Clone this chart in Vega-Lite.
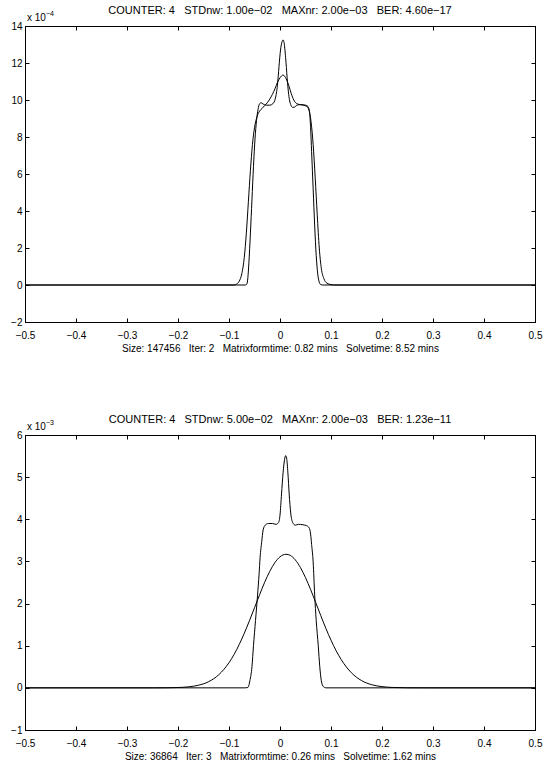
{
  "$schema": "https://vega.github.io/schema/vega-lite/v6.json",
  "background": "white",
  "padding": {"left": 10, "top": 4, "right": 1, "bottom": 2},
  "spacing": 59,
  "datasets": {
    "p1": [
      {"x": -0.5, "y": 0, "curve": "a"}, {"x": -0.068, "y": 0, "curve": "a"}, {"x": -0.065, "y": 0.05, "curve": "a"}, {"x": -0.063, "y": 0.4, "curve": "a"}, {"x": -0.061, "y": 1.2, "curve": "a"}, {"x": -0.058, "y": 2.8, "curve": "a"}, {"x": -0.055, "y": 4.6, "curve": "a"}, {"x": -0.052, "y": 6.4, "curve": "a"}, {"x": -0.049, "y": 7.9, "curve": "a"}, {"x": -0.046, "y": 8.9, "curve": "a"}, {"x": -0.043, "y": 9.5, "curve": "a"}, {"x": -0.04, "y": 9.8, "curve": "a"}, {"x": -0.037, "y": 9.85, "curve": "a"}, {"x": -0.033, "y": 9.78, "curve": "a"}, {"x": -0.027, "y": 9.72, "curve": "a"}, {"x": -0.02, "y": 9.72, "curve": "a"}, {"x": -0.014, "y": 9.8, "curve": "a"}, {"x": -0.009, "y": 10.1, "curve": "a"}, {"x": -0.005, "y": 10.8, "curve": "a"}, {"x": -0.002, "y": 11.8, "curve": "a"}, {"x": 0.001, "y": 12.7, "curve": "a"}, {"x": 0.004, "y": 13.15, "curve": "a"}, {"x": 0.006, "y": 13.25, "curve": "a"}, {"x": 0.008, "y": 13.1, "curve": "a"}, {"x": 0.011, "y": 12.3, "curve": "a"}, {"x": 0.014, "y": 11.2, "curve": "a"}, {"x": 0.017, "y": 10.3, "curve": "a"}, {"x": 0.021, "y": 9.75, "curve": "a"}, {"x": 0.025, "y": 9.6, "curve": "a"}, {"x": 0.029, "y": 9.62, "curve": "a"}, {"x": 0.033, "y": 9.72, "curve": "a"}, {"x": 0.04, "y": 9.75, "curve": "a"}, {"x": 0.05, "y": 9.72, "curve": "a"}, {"x": 0.055, "y": 9.65, "curve": "a"}, {"x": 0.058, "y": 9.3, "curve": "a"}, {"x": 0.06, "y": 8.5, "curve": "a"}, {"x": 0.062, "y": 7.2, "curve": "a"}, {"x": 0.065, "y": 5.2, "curve": "a"}, {"x": 0.068, "y": 3.2, "curve": "a"}, {"x": 0.071, "y": 1.6, "curve": "a"}, {"x": 0.074, "y": 0.6, "curve": "a"}, {"x": 0.077, "y": 0.15, "curve": "a"}, {"x": 0.08, "y": 0.02, "curve": "a"}, {"x": 0.083, "y": 0, "curve": "a"}, {"x": 0.5, "y": 0, "curve": "a"},
      {"x": -0.5, "y": 0, "curve": "b"}, {"x": -0.09, "y": 0, "curve": "b"}, {"x": -0.085, "y": 0.05, "curve": "b"}, {"x": -0.08, "y": 0.2, "curve": "b"}, {"x": -0.075, "y": 0.6, "curve": "b"}, {"x": -0.07, "y": 1.5, "curve": "b"}, {"x": -0.066, "y": 2.8, "curve": "b"}, {"x": -0.062, "y": 4.5, "curve": "b"}, {"x": -0.058, "y": 6.2, "curve": "b"}, {"x": -0.054, "y": 7.6, "curve": "b"}, {"x": -0.05, "y": 8.5, "curve": "b"}, {"x": -0.045, "y": 9.1, "curve": "b"}, {"x": -0.04, "y": 9.4, "curve": "b"}, {"x": -0.035, "y": 9.55, "curve": "b"}, {"x": -0.03, "y": 9.7, "curve": "b"}, {"x": -0.025, "y": 9.85, "curve": "b"}, {"x": -0.02, "y": 10.05, "curve": "b"}, {"x": -0.015, "y": 10.3, "curve": "b"}, {"x": -0.01, "y": 10.6, "curve": "b"}, {"x": -0.005, "y": 10.95, "curve": "b"}, {"x": 0.0, "y": 11.2, "curve": "b"}, {"x": 0.006, "y": 11.35, "curve": "b"}, {"x": 0.012, "y": 11.15, "curve": "b"}, {"x": 0.017, "y": 10.8, "curve": "b"}, {"x": 0.022, "y": 10.35, "curve": "b"}, {"x": 0.027, "y": 10.0, "curve": "b"}, {"x": 0.032, "y": 9.82, "curve": "b"}, {"x": 0.039, "y": 9.75, "curve": "b"}, {"x": 0.046, "y": 9.72, "curve": "b"}, {"x": 0.052, "y": 9.65, "curve": "b"}, {"x": 0.057, "y": 9.45, "curve": "b"}, {"x": 0.061, "y": 8.8, "curve": "b"}, {"x": 0.065, "y": 7.6, "curve": "b"}, {"x": 0.069, "y": 5.8, "curve": "b"}, {"x": 0.073, "y": 3.8, "curve": "b"}, {"x": 0.077, "y": 2.0, "curve": "b"}, {"x": 0.081, "y": 0.9, "curve": "b"}, {"x": 0.086, "y": 0.35, "curve": "b"}, {"x": 0.092, "y": 0.1, "curve": "b"}, {"x": 0.1, "y": 0.02, "curve": "b"}, {"x": 0.105, "y": 0, "curve": "b"}, {"x": 0.5, "y": 0, "curve": "b"}
    ],
    "p2": [
      {"x": -0.5, "y": 0, "curve": "a"}, {"x": -0.07, "y": 0, "curve": "a"}, {"x": -0.063, "y": 0.01, "curve": "a"}, {"x": -0.059, "y": 0.17, "curve": "a"}, {"x": -0.055, "y": 0.5, "curve": "a"}, {"x": -0.052, "y": 1.0, "curve": "a"}, {"x": -0.048, "y": 1.6, "curve": "a"}, {"x": -0.044, "y": 2.2, "curve": "a"}, {"x": -0.041, "y": 2.7, "curve": "a"}, {"x": -0.039, "y": 3.1, "curve": "a"}, {"x": -0.036, "y": 3.45, "curve": "a"}, {"x": -0.033, "y": 3.75, "curve": "a"}, {"x": -0.029, "y": 3.86, "curve": "a"}, {"x": -0.023, "y": 3.9, "curve": "a"}, {"x": -0.015, "y": 3.9, "curve": "a"}, {"x": -0.008, "y": 3.88, "curve": "a"}, {"x": -0.003, "y": 3.92, "curve": "a"}, {"x": 0.0, "y": 4.1, "curve": "a"}, {"x": 0.003, "y": 4.6, "curve": "a"}, {"x": 0.006, "y": 5.1, "curve": "a"}, {"x": 0.009, "y": 5.42, "curve": "a"}, {"x": 0.011, "y": 5.51, "curve": "a"}, {"x": 0.013, "y": 5.45, "curve": "a"}, {"x": 0.0155, "y": 5.1, "curve": "a"}, {"x": 0.018, "y": 4.6, "curve": "a"}, {"x": 0.021, "y": 4.15, "curve": "a"}, {"x": 0.025, "y": 3.92, "curve": "a"}, {"x": 0.03, "y": 3.86, "curve": "a"}, {"x": 0.036, "y": 3.88, "curve": "a"}, {"x": 0.045, "y": 3.87, "curve": "a"}, {"x": 0.052, "y": 3.85, "curve": "a"}, {"x": 0.057, "y": 3.8, "curve": "a"}, {"x": 0.06, "y": 3.65, "curve": "a"}, {"x": 0.062, "y": 3.4, "curve": "a"}, {"x": 0.065, "y": 2.99, "curve": "a"}, {"x": 0.068, "y": 2.2, "curve": "a"}, {"x": 0.071, "y": 1.6, "curve": "a"}, {"x": 0.075, "y": 1.0, "curve": "a"}, {"x": 0.078, "y": 0.5, "curve": "a"}, {"x": 0.081, "y": 0.17, "curve": "a"}, {"x": 0.085, "y": 0.03, "curve": "a"}, {"x": 0.09, "y": 0, "curve": "a"}, {"x": 0.5, "y": 0, "curve": "a"},
      {"x": -0.5, "y": 0, "curve": "b"}, {"x": -0.3, "y": 0, "curve": "b"}, {"x": -0.25, "y": 0.0003, "curve": "b"}, {"x": -0.22, "y": 0.0025, "curve": "b"}, {"x": -0.2, "y": 0.008, "curve": "b"}, {"x": -0.18, "y": 0.023, "curve": "b"}, {"x": -0.16, "y": 0.062, "curve": "b"}, {"x": -0.14, "y": 0.146, "curve": "b"}, {"x": -0.12, "y": 0.312, "curve": "b"}, {"x": -0.1, "y": 0.597, "curve": "b"}, {"x": -0.09, "y": 0.794, "curve": "b"}, {"x": -0.08, "y": 1.028, "curve": "b"}, {"x": -0.07, "y": 1.296, "curve": "b"}, {"x": -0.06, "y": 1.59, "curve": "b"}, {"x": -0.05, "y": 1.9, "curve": "b"}, {"x": -0.04, "y": 2.21, "curve": "b"}, {"x": -0.03, "y": 2.507, "curve": "b"}, {"x": -0.02, "y": 2.766, "curve": "b"}, {"x": -0.01, "y": 2.972, "curve": "b"}, {"x": 0.0, "y": 3.11, "curve": "b"}, {"x": 0.012, "y": 3.17, "curve": "b"}, {"x": 0.02, "y": 3.143, "curve": "b"}, {"x": 0.03, "y": 3.037, "curve": "b"}, {"x": 0.04, "y": 2.856, "curve": "b"}, {"x": 0.05, "y": 2.616, "curve": "b"}, {"x": 0.06, "y": 2.333, "curve": "b"}, {"x": 0.07, "y": 2.026, "curve": "b"}, {"x": 0.08, "y": 1.713, "curve": "b"}, {"x": 0.09, "y": 1.41, "curve": "b"}, {"x": 0.1, "y": 1.131, "curve": "b"}, {"x": 0.11, "y": 0.883, "curve": "b"}, {"x": 0.12, "y": 0.671, "curve": "b"}, {"x": 0.14, "y": 0.358, "curve": "b"}, {"x": 0.16, "y": 0.172, "curve": "b"}, {"x": 0.18, "y": 0.074, "curve": "b"}, {"x": 0.2, "y": 0.029, "curve": "b"}, {"x": 0.22, "y": 0.01, "curve": "b"}, {"x": 0.25, "y": 0.0017, "curve": "b"}, {"x": 0.3, "y": 0, "curve": "b"}, {"x": 0.5, "y": 0, "curve": "b"}
    ],
    "m1": [{"base": "x 10", "exp": "−4"}],
    "m2": [{"base": "x 10", "exp": "−3"}]
  },
  "vconcat": [
    {
      "width": 510,
      "height": 296,
      "title": {"text": "COUNTER: 4\u00a0\u00a0 STDnw: 1.00e−02\u00a0\u00a0 MAXnr: 2.00e−03\u00a0\u00a0 BER: 4.60e−17", "offset": -6},
      "resolve": {"axis": {"x": "independent", "y": "independent"}},
      "layer": [
        {
          "data": {"name": "p1"},
          "mark": {"type": "line", "color": "black", "strokeWidth": 1, "interpolate": "monotone"},
          "encoding": {
            "x": {"field": "x", "type": "quantitative", "scale": {"domain": [-0.5, 0.5], "nice": false, "zero": false},
                  "axis": {"orient": "bottom", "values": [-0.5, -0.4, -0.3, -0.2, -0.1, 0, 0.1, 0.2, 0.3, 0.4, 0.5], "labelExpr": "datum.value == 0 ? '0' : format(datum.value, '.1f')", "title": "Size: 147456\u00a0\u00a0 Iter: 2\u00a0\u00a0 Matrixformtime: 0.82 mins\u00a0\u00a0 Solvetime: 8.52 mins", "labelFlush": false, "labelOverlap": false}},
            "y": {"field": "y", "type": "quantitative", "scale": {"domain": [-2, 14], "nice": false, "zero": false},
                  "axis": {"orient": "left", "values": [-2, 0, 2, 4, 6, 8, 10, 12, 14], "title": null, "labelOverlap": false, "labelFlush": false, "labelPadding": 7}},
            "detail": {"field": "curve"}
          }
        },
        {
          "data": {"name": "m1"},
          "mark": {"type": "text", "align": "left", "baseline": "alphabetic", "dx": 2, "dy": -5, "fontSize": 10, "color": "black"},
          "encoding": {
            "text": {"field": "base"},
            "x": {"datum": -0.5, "type": "quantitative", "axis": {"orient": "top", "labels": false, "title": null, "values": [-0.5, -0.4, -0.3, -0.2, -0.1, 0, 0.1, 0.2, 0.3, 0.4, 0.5]}},
            "y": {"datum": 14, "type": "quantitative", "axis": {"orient": "right", "labels": false, "title": null, "values": [-2, 0, 2, 4, 6, 8, 10, 12, 14]}}
          }
        },
        {
          "data": {"name": "m1"},
          "mark": {"type": "text", "align": "left", "baseline": "alphabetic", "dx": 21, "dy": -10, "fontSize": 7, "color": "black"},
          "encoding": {
            "text": {"field": "exp"},
            "x": {"datum": -0.5, "type": "quantitative", "axis": null},
            "y": {"datum": 14, "type": "quantitative", "axis": null}
          }
        }
      ]
    },
    {
      "width": 510,
      "height": 295,
      "title": {"text": "COUNTER: 4\u00a0\u00a0 STDnw: 5.00e−02\u00a0\u00a0 MAXnr: 2.00e−03\u00a0\u00a0 BER: 1.23e−11", "offset": -6},
      "resolve": {"axis": {"x": "independent", "y": "independent"}},
      "layer": [
        {
          "data": {"name": "p2"},
          "mark": {"type": "line", "color": "black", "strokeWidth": 1, "interpolate": "monotone"},
          "encoding": {
            "x": {"field": "x", "type": "quantitative", "scale": {"domain": [-0.5, 0.5], "nice": false, "zero": false},
                  "axis": {"orient": "bottom", "values": [-0.5, -0.4, -0.3, -0.2, -0.1, 0, 0.1, 0.2, 0.3, 0.4, 0.5], "labelExpr": "datum.value == 0 ? '0' : format(datum.value, '.1f')", "title": "Size: 36864\u00a0\u00a0 Iter: 3\u00a0\u00a0 Matrixformtime: 0.26 mins\u00a0\u00a0 Solvetime: 1.62 mins", "labelFlush": false, "labelOverlap": false}},
            "y": {"field": "y", "type": "quantitative", "scale": {"domain": [-1, 6], "nice": false, "zero": false},
                  "axis": {"orient": "left", "values": [-1, 0, 1, 2, 3, 4, 5, 6], "title": null, "labelOverlap": false, "labelFlush": false, "labelPadding": 7}},
            "detail": {"field": "curve"}
          }
        },
        {
          "data": {"name": "m2"},
          "mark": {"type": "text", "align": "left", "baseline": "alphabetic", "dx": 2, "dy": -5, "fontSize": 10, "color": "black"},
          "encoding": {
            "text": {"field": "base"},
            "x": {"datum": -0.5, "type": "quantitative", "axis": {"orient": "top", "labels": false, "title": null, "values": [-0.5, -0.4, -0.3, -0.2, -0.1, 0, 0.1, 0.2, 0.3, 0.4, 0.5]}},
            "y": {"datum": 6, "type": "quantitative", "axis": {"orient": "right", "labels": false, "title": null, "values": [-1, 0, 1, 2, 3, 4, 5, 6]}}
          }
        },
        {
          "data": {"name": "m2"},
          "mark": {"type": "text", "align": "left", "baseline": "alphabetic", "dx": 21, "dy": -10, "fontSize": 7, "color": "black"},
          "encoding": {
            "text": {"field": "exp"},
            "x": {"datum": -0.5, "type": "quantitative", "axis": null},
            "y": {"datum": 6, "type": "quantitative", "axis": null}
          }
        }
      ]
    }
  ],
  "config": {
    "font": "Liberation Sans",
    "view": {"stroke": "black", "strokeWidth": 1},
    "axis": {"grid": false, "domainColor": "black", "domainWidth": 1, "tickColor": "black", "tickWidth": 1, "tickSize": -4, "labelPadding": 12, "labelColor": "black", "labelFontSize": 10, "labelFont": "Liberation Sans", "titleFont": "Liberation Sans", "titleFontSize": 10, "titleFontWeight": "normal", "titleColor": "black", "titlePadding": 3},
    "title": {"font": "Liberation Sans", "fontSize": 11, "fontWeight": "normal", "color": "black", "anchor": "middle"}
  }
}
